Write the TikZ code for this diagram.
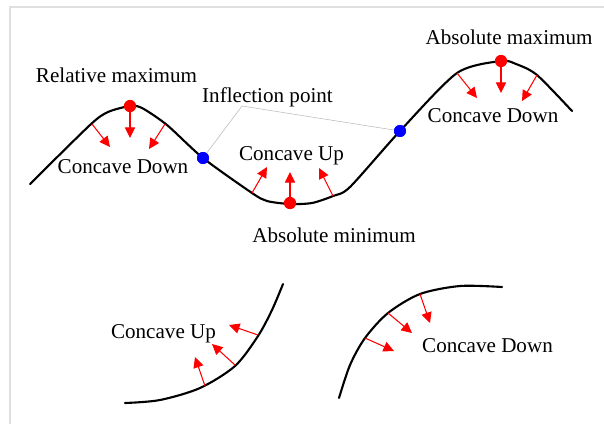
\documentclass[tikz,border=0pt]{standalone}
\usepackage{fontspec}
\setmainfont{Liberation Serif}
\usetikzlibrary{
    arrows.meta
}
\definecolor{ptRed}{RGB}{255,0,0}
\definecolor{ptBlue}{RGB}{0,0,255}
\tikzset{
  curve/.style = {black, line width=1.2pt, line join=round, line cap=round},
  narr/.style  = {-{Triangle[length=6pt,width=5.8pt]}, ptRed, line width=0.6pt},
  lbl/.style   = {anchor=base, inner sep=0pt, font=\fontsize{12}{14}\selectfont},
  rdot/.style  = {circle, fill=ptRed, minimum size=7pt, inner sep=0pt},
  bdot/.style  = {circle, fill=ptBlue, minimum size=6.8pt, inner sep=0pt},
  lead/.style  = {gray!55, line width=0.3pt},
  frame/.style = {gray!25, line width=0.6pt}
}

\begin{document}
\begin{tikzpicture}[x=0.02cm, y=-0.02cm]
    \useasboundingbox (0,0) rectangle (604,424);
    \draw[frame] (10,424) -- (10,7) -- (604,7);

    % main curve
    \draw[curve] plot[smooth, tension=0.45] coordinates {
      (30,184) (90,125) (108,112) (130,106) (142,108) (167,125)
      (203,158) (252,193) (267,201) (290,204) (312,203) (333,196)
      (350,187) (400,131) (457,73) (501,61) (516,64) (537,75) (572,111)};

    % lower curves
    \draw[curve] plot[smooth, tension=0.5] coordinates {
      (125,403) (160,400) (200,388) (235,366) (258,336) (272,310) (283,284)};
    \draw[curve] plot[smooth, tension=0.5] coordinates {
      (339,398) (350,365) (365,338) (388,313) (420,294) (460,286) (502,287)};

    % normals
    \foreach \a/\b/\c/\d in {92/124/110/147, 130/112/130/138, 165/124/149/149,
                             252/193/267/167, 290/197/290/172, 333/196/319/168,
                             457/73/477/98, 501/67/501/93, 537/75/522/101,
                             205/386/195/357, 235/365/212/344, 258/335/229/325,
                             365/338/394/351, 388/313/412/333, 420/294/430/323}
      \draw[narr] (\a,\b) -- (\c,\d);

    % points
    \coordinate (leadpt) at (242,106);
    \node[bdot] (infl1)  at (203,158) {};
    \node[bdot] (infl2)  at (400,131) {};
    \draw[lead] (infl1) -- (leadpt) -- (infl2);
    \node[bdot] at (infl1) {};
    \node[bdot] at (infl2) {};
    \node[rdot] (relmax) at (130,106) {};
    \node[rdot] (absmin) at (290,203) {};
    \node[rdot] (absmax) at (501,61)  {};

    % labels
    \node[lbl] (relmaxL) at (116.5,82) {Relative maximum};
    \node[lbl] (inflL)   at (267.5,102) {Inflection point};
    \node[lbl] (cdownA)  at (123,173) {Concave Down};
    \node[lbl] (cupA)    at (291.5,160) {Concave Up};
    \node[lbl] (absminL) at (334,242) {Absolute minimum};
    \node[lbl] (absmaxL) at (509,44) {Absolute maximum};
    \node[lbl] (cdownB)  at (493,122) {Concave Down};
    \node[lbl] (cupB)    at (163.5,338) {Concave Up};
    \node[lbl] (cdownC)  at (487.5,352) {Concave Down};
  \end{tikzpicture}
\end{document}
